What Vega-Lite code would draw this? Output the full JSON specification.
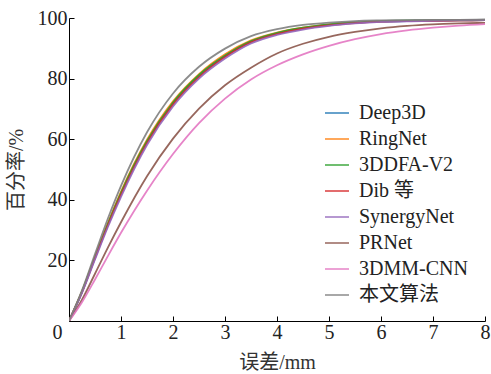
{
  "$schema": "https://vega.github.io/schema/vega-lite/v6.json",
  "width": 416,
  "height": 303,
  "autosize": {"type": "none"},
  "padding": {"left": 69, "top": 18, "right": 6, "bottom": 53},
  "config": {
    "view": {"stroke": null},
    "font": "'Liberation Serif', 'Noto Sans CJK SC', serif",
    "axis": {
      "labelFont": "'Liberation Serif', 'Noto Sans CJK SC', serif",
      "titleFont": "'Liberation Serif', 'Noto Sans CJK SC', serif",
      "labelFontSize": 20,
      "titleFontSize": 20,
      "titleFontWeight": "normal",
      "labelColor": "#222",
      "titleColor": "#333",
      "domainColor": "#000",
      "tickColor": "#000",
      "domainWidth": 1,
      "tickWidth": 1,
      "grid": false
    },
    "legend": {
      "labelFont": "'Liberation Serif', 'Noto Sans CJK SC', serif"
    }
  },
  "data": {
    "values": [
      {"m":"Deep3D","x":0,"y":0},{"m":"Deep3D","x":0.25,"y":9.6},{"m":"Deep3D","x":0.5,"y":20.9},{"m":"Deep3D","x":0.75,"y":31.9},{"m":"Deep3D","x":1,"y":42.0},{"m":"Deep3D","x":1.5,"y":59.1},{"m":"Deep3D","x":2,"y":71.8},{"m":"Deep3D","x":2.5,"y":80.9},{"m":"Deep3D","x":3,"y":87.4},{"m":"Deep3D","x":3.5,"y":92.2},{"m":"Deep3D","x":4,"y":94.9},{"m":"Deep3D","x":4.5,"y":96.6},{"m":"Deep3D","x":5,"y":97.7},{"m":"Deep3D","x":5.5,"y":98.4},{"m":"Deep3D","x":6,"y":98.8},{"m":"Deep3D","x":6.5,"y":99.0},{"m":"Deep3D","x":7,"y":99.1},{"m":"Deep3D","x":7.5,"y":99.2},{"m":"Deep3D","x":8,"y":99.3},
      {"m":"RingNet","x":0,"y":0},{"m":"RingNet","x":0.25,"y":9.8},{"m":"RingNet","x":0.5,"y":21.3},{"m":"RingNet","x":0.75,"y":32.5},{"m":"RingNet","x":1,"y":42.7},{"m":"RingNet","x":1.5,"y":59.8},{"m":"RingNet","x":2,"y":72.5},{"m":"RingNet","x":2.5,"y":81.5},{"m":"RingNet","x":3,"y":88.0},{"m":"RingNet","x":3.5,"y":92.6},{"m":"RingNet","x":4,"y":95.2},{"m":"RingNet","x":4.5,"y":96.8},{"m":"RingNet","x":5,"y":97.9},{"m":"RingNet","x":5.5,"y":98.5},{"m":"RingNet","x":6,"y":98.9},{"m":"RingNet","x":6.5,"y":99.0},{"m":"RingNet","x":7,"y":99.1},{"m":"RingNet","x":7.5,"y":99.2},{"m":"RingNet","x":8,"y":99.3},
      {"m":"3DDFA-V2","x":0,"y":0},{"m":"3DDFA-V2","x":0.25,"y":9.7},{"m":"3DDFA-V2","x":0.5,"y":21.1},{"m":"3DDFA-V2","x":0.75,"y":32.1},{"m":"3DDFA-V2","x":1,"y":42.3},{"m":"3DDFA-V2","x":1.5,"y":59.4},{"m":"3DDFA-V2","x":2,"y":72.1},{"m":"3DDFA-V2","x":2.5,"y":81.2},{"m":"3DDFA-V2","x":3,"y":87.6},{"m":"3DDFA-V2","x":3.5,"y":92.4},{"m":"3DDFA-V2","x":4,"y":95.1},{"m":"3DDFA-V2","x":4.5,"y":96.8},{"m":"3DDFA-V2","x":5,"y":97.9},{"m":"3DDFA-V2","x":5.5,"y":98.6},{"m":"3DDFA-V2","x":6,"y":99.0},{"m":"3DDFA-V2","x":6.5,"y":99.2},{"m":"3DDFA-V2","x":7,"y":99.3},{"m":"3DDFA-V2","x":7.5,"y":99.3},{"m":"3DDFA-V2","x":8,"y":99.4},
      {"m":"Dib 等","x":0,"y":0},{"m":"Dib 等","x":0.25,"y":9.5},{"m":"Dib 等","x":0.5,"y":20.7},{"m":"Dib 等","x":0.75,"y":31.6},{"m":"Dib 等","x":1,"y":41.6},{"m":"Dib 等","x":1.5,"y":58.7},{"m":"Dib 等","x":2,"y":71.4},{"m":"Dib 等","x":2.5,"y":80.5},{"m":"Dib 等","x":3,"y":87.1},{"m":"Dib 等","x":3.5,"y":92.0},{"m":"Dib 等","x":4,"y":94.7},{"m":"Dib 等","x":4.5,"y":96.5},{"m":"Dib 等","x":5,"y":97.6},{"m":"Dib 等","x":5.5,"y":98.3},{"m":"Dib 等","x":6,"y":98.8},{"m":"Dib 等","x":6.5,"y":99.0},{"m":"Dib 等","x":7,"y":99.1},{"m":"Dib 等","x":7.5,"y":99.2},{"m":"Dib 等","x":8,"y":99.3},
      {"m":"SynergyNet","x":0,"y":0},{"m":"SynergyNet","x":0.25,"y":9.3},{"m":"SynergyNet","x":0.5,"y":20.3},{"m":"SynergyNet","x":0.75,"y":31.1},{"m":"SynergyNet","x":1,"y":41.0},{"m":"SynergyNet","x":1.5,"y":58.1},{"m":"SynergyNet","x":2,"y":70.8},{"m":"SynergyNet","x":2.5,"y":80.0},{"m":"SynergyNet","x":3,"y":86.6},{"m":"SynergyNet","x":3.5,"y":91.6},{"m":"SynergyNet","x":4,"y":94.4},{"m":"SynergyNet","x":4.5,"y":96.2},{"m":"SynergyNet","x":5,"y":97.4},{"m":"SynergyNet","x":5.5,"y":98.2},{"m":"SynergyNet","x":6,"y":98.7},{"m":"SynergyNet","x":6.5,"y":98.9},{"m":"SynergyNet","x":7,"y":99.1},{"m":"SynergyNet","x":7.5,"y":99.2},{"m":"SynergyNet","x":8,"y":99.3},
      {"m":"PRNet","x":0,"y":0},{"m":"PRNet","x":0.25,"y":7.0},{"m":"PRNet","x":0.5,"y":15.6},{"m":"PRNet","x":0.75,"y":24.3},{"m":"PRNet","x":1,"y":32.6},{"m":"PRNet","x":1.5,"y":47.8},{"m":"PRNet","x":2,"y":60.2},{"m":"PRNet","x":2.5,"y":70.1},{"m":"PRNet","x":3,"y":77.8},{"m":"PRNet","x":3.5,"y":83.6},{"m":"PRNet","x":4,"y":88.3},{"m":"PRNet","x":4.5,"y":91.5},{"m":"PRNet","x":5,"y":93.8},{"m":"PRNet","x":5.5,"y":95.4},{"m":"PRNet","x":6,"y":96.6},{"m":"PRNet","x":6.5,"y":97.4},{"m":"PRNet","x":7,"y":97.9},{"m":"PRNet","x":7.5,"y":98.2},{"m":"PRNet","x":8,"y":98.4},
      {"m":"3DMM-CNN","x":0,"y":0},{"m":"3DMM-CNN","x":0.25,"y":6.2},{"m":"3DMM-CNN","x":0.5,"y":13.7},{"m":"3DMM-CNN","x":0.75,"y":21.5},{"m":"3DMM-CNN","x":1,"y":29.1},{"m":"3DMM-CNN","x":1.5,"y":43.0},{"m":"3DMM-CNN","x":2,"y":55.1},{"m":"3DMM-CNN","x":2.5,"y":65.3},{"m":"3DMM-CNN","x":3,"y":73.4},{"m":"3DMM-CNN","x":3.5,"y":79.7},{"m":"3DMM-CNN","x":4,"y":84.4},{"m":"3DMM-CNN","x":4.5,"y":88.0},{"m":"3DMM-CNN","x":5,"y":90.8},{"m":"3DMM-CNN","x":5.5,"y":93.0},{"m":"3DMM-CNN","x":6,"y":94.7},{"m":"3DMM-CNN","x":6.5,"y":95.9},{"m":"3DMM-CNN","x":7,"y":96.8},{"m":"3DMM-CNN","x":7.5,"y":97.5},{"m":"3DMM-CNN","x":8,"y":98.0},
      {"m":"本文算法","x":0,"y":0},{"m":"本文算法","x":0.25,"y":10.1},{"m":"本文算法","x":0.5,"y":22.1},{"m":"本文算法","x":0.75,"y":33.9},{"m":"本文算法","x":1,"y":44.6},{"m":"本文算法","x":1.5,"y":62.3},{"m":"本文算法","x":2,"y":75.1},{"m":"本文算法","x":2.5,"y":83.9},{"m":"本文算法","x":3,"y":89.9},{"m":"本文算法","x":3.5,"y":94.0},{"m":"本文算法","x":4,"y":96.3},{"m":"本文算法","x":4.5,"y":97.7},{"m":"本文算法","x":5,"y":98.5},{"m":"本文算法","x":5.5,"y":99.0},{"m":"本文算法","x":6,"y":99.2},{"m":"本文算法","x":6.5,"y":99.3},{"m":"本文算法","x":7,"y":99.4},{"m":"本文算法","x":7.5,"y":99.4},{"m":"本文算法","x":8,"y":99.5}
    ]
  },
  "mark": {"type": "line", "interpolate": "monotone", "strokeWidth": 1.8, "opacity": 0.9, "clip": true},
  "encoding": {
    "x": {
      "field": "x", "type": "quantitative",
      "scale": {"domain": [0, 8], "nice": false},
      "axis": {
        "values": [0, 1, 2, 3, 4, 5, 6, 7, 8],
        "tickSize": -5,
        "labelPadding": 6,
        "labelOffset": {"condition": {"test": "datum.value == 0", "value": -12}, "value": 0},
        "title": "误差/mm",
        "titlePadding": 10,
        "labelFlush": false
      }
    },
    "y": {
      "field": "y", "type": "quantitative",
      "scale": {"domain": [0, 100], "nice": false},
      "axis": {
        "values": [20, 40, 60, 80, 100],
        "tickSize": -5,
        "labelPadding": 7,
        "title": "百分率/%",
        "titlePadding": 11,
        "labelFlush": false
      }
    },
    "color": {
      "field": "m", "type": "nominal",
      "scale": {
        "domain": ["Deep3D", "RingNet", "3DDFA-V2", "Dib 等", "SynergyNet", "PRNet", "3DMM-CNN", "本文算法"],
        "range": ["#1f77b4", "#ff7f0e", "#2ca02c", "#d62728", "#9467bd", "#8c564b", "#e377c2", "#7f7f7f"]
      },
      "legend": {
        "orient": "none",
        "legendX": 255,
        "legendY": 82,
        "title": null,
        "symbolType": "stroke",
        "symbolSize": 576,
        "symbolStrokeWidth": 1.5,
        "labelFont": "'Liberation Serif', 'Noto Sans CJK SC', serif",
        "labelFontSize": 20,
        "labelColor": "#222",
        "labelOffset": 9,
        "rowPadding": 3,
        "padding": 0
      }
    }
  }
}
